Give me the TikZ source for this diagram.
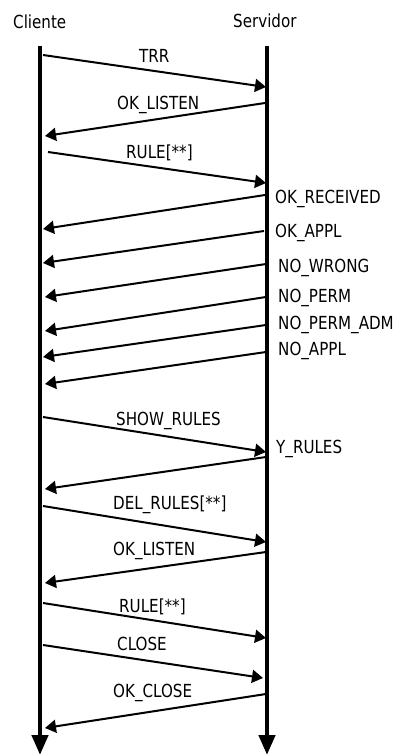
\documentclass[tikz,border=0pt]{standalone}
\usepackage{fontspec}
\setmainfont{DejaVu Sans}[FakeStretch=0.84]
\usetikzlibrary{arrows.meta}
\tikzset{
  life/.style={line width=4.5pt, -{Triangle[length=20pt,width=16pt]}},
  msg/.style={line width=2pt, -{Triangle[length=11pt,width=13pt]}},
  lbl/.style={anchor=base west, inner sep=0pt, font=\fontsize{18pt}{21pt}\selectfont},
}
\begin{document}
\begin{tikzpicture}[x=1pt,y=-1pt]
\useasboundingbox (0,0) rectangle (393,756);
% headers
\node[lbl] (hc) at (13,28) {Cliente};
\node[lbl] (hs) at (233,27) {Servidor};
% lifelines
\coordinate (ct) at (40,46);
\coordinate (cb) at (40,755);
\coordinate (st) at (267,46);
\coordinate (sb) at (267,755);
\draw[life] (ct) -- (cb);
\draw[life] (st) -- (sb);
% endpoints
\coordinate (a1) at (43,55);  \coordinate (b1) at (266,87);
\coordinate (a2) at (265,103); \coordinate (b2) at (45,136);
\coordinate (a3) at (48,152); \coordinate (b3) at (266,183);
\coordinate (a4) at (265,195); \coordinate (b4) at (43,229);
\coordinate (a5) at (264,231); \coordinate (b5) at (43,263);
\coordinate (a6) at (266,264); \coordinate (b6) at (45,297);
\coordinate (a7) at (266,297); \coordinate (b7) at (45,331);
\coordinate (a8) at (266,325); \coordinate (b8) at (43,357);
\coordinate (a9) at (266,352); \coordinate (b9) at (45,384);
\coordinate (a10) at (43,417); \coordinate (b10) at (266,452);
\coordinate (a11) at (266,457); \coordinate (b11) at (45,489);
\coordinate (a12) at (43,506); \coordinate (b12) at (266,542);
\coordinate (a13) at (266,552); \coordinate (b13) at (45,583);
\coordinate (a14) at (43,603); \coordinate (b14) at (266,638);
\coordinate (a15) at (43,645); \coordinate (b15) at (263,678);
\coordinate (a16) at (266,694); \coordinate (b16) at (45,728);
\foreach \i in {1,...,16} {\draw[msg] (a\i) -- (b\i);}
% labels
\node[lbl] (l1) at (139,62) {TRR};
\node[lbl] (l2) at (117,109) {OK\_LISTEN};
\node[lbl] (l3) at (126,158) {RULE[**]};
\node[lbl] (l4) at (275,203) {OK\_RECEIVED};
\node[lbl] (l5) at (275,237) {OK\_APPL};
\node[lbl] (l6) at (278,272) {NO\_WRONG};
\node[lbl] (l7) at (278,302) {NO\_PERM};
\node[lbl] (l8) at (278,329) {NO\_PERM\_ADM};
\node[lbl] (l9) at (278,355) {NO\_APPL};
\node[lbl] (l10) at (116,425) {SHOW\_RULES};
\node[lbl] (l11) at (276,453) {Y\_RULES};
\node[lbl] (l12) at (113,509) {DEL\_RULES[**]};
\node[lbl] (l13) at (113,555) {OK\_LISTEN};
\node[lbl] (l14) at (119,612) {RULE[**]};
\node[lbl] (l15) at (117,650) {CLOSE};
\node[lbl] (l16) at (113,697) {OK\_CLOSE};
\end{tikzpicture}
\end{document}
